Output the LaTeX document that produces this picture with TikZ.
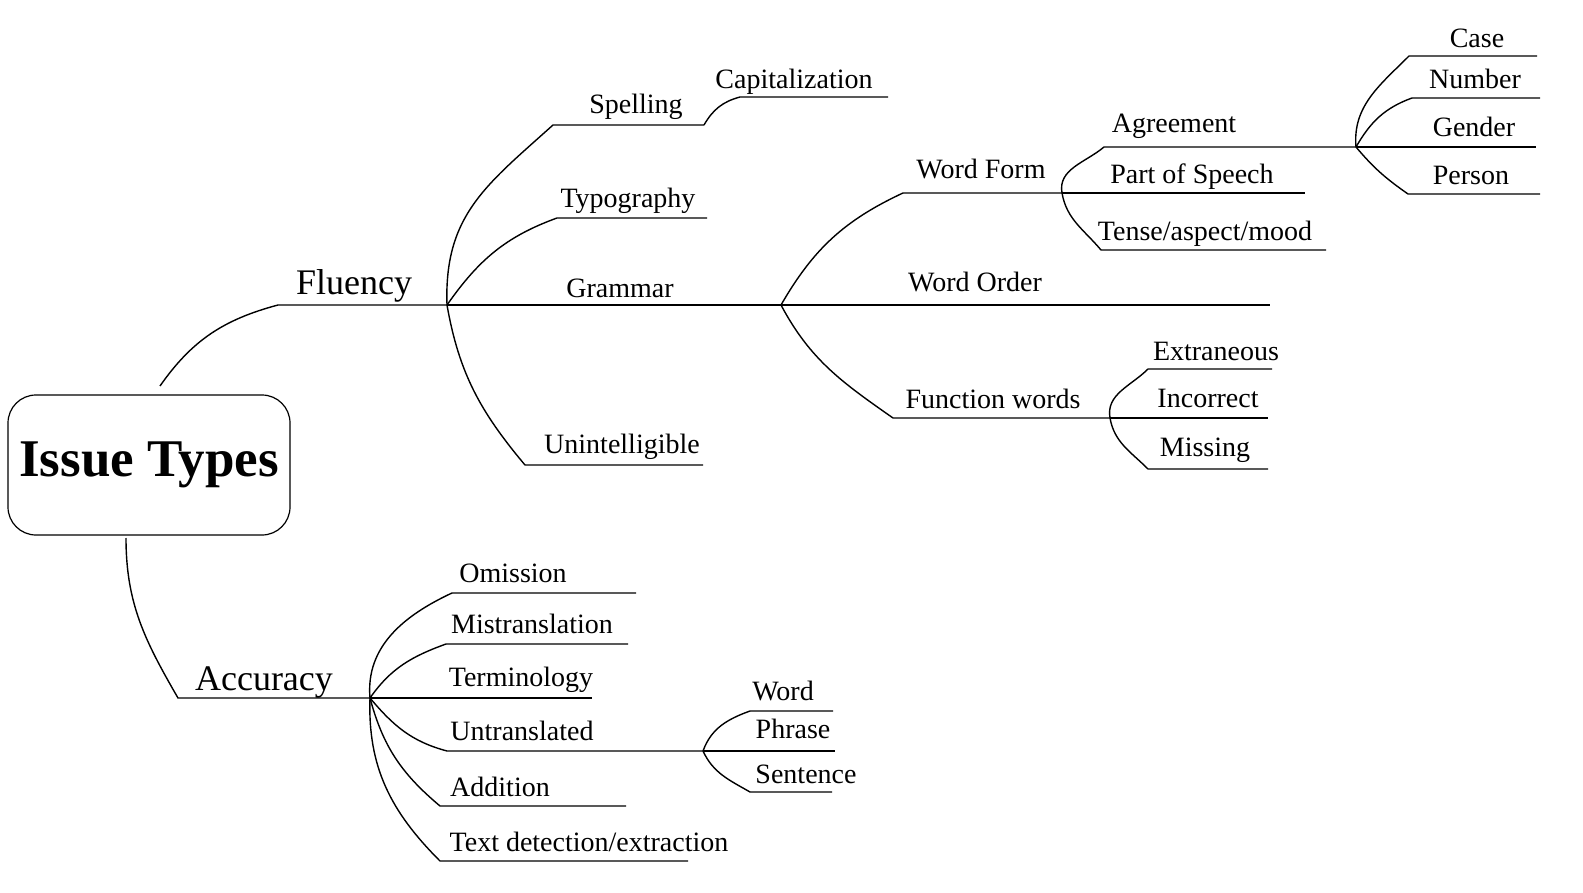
\documentclass[tikz,border=0pt]{standalone}
\usepackage{fontspec}
\setmainfont{Liberation Serif}

\begin{document}
\begin{tikzpicture}[x=1pt, y=1pt, line width=1.4pt,
    root/.style = {draw, line width=1.2pt, rounded corners=28pt, minimum width=282pt, minimum height=140pt, font=\fontsize{53}{60}\selectfont\bfseries},
    big/.style = {anchor=base, inner sep=0pt, font=\fontsize{36}{40}\selectfont},
    lbl/.style = {anchor=base, inner sep=0pt, font=\fontsize{28}{32}\selectfont}]
    \useasboundingbox (0,0) rectangle (1583,-893);

    \node[root] (issue) at (149,-465) {Issue Types};

    \coordinate (fl0) at (160,-386);  \coordinate (fl1) at (278,-305);  \coordinate (F) at (447,-305);
    \coordinate (ac0) at (126,-538);  \coordinate (ac1) at (178,-698);  \coordinate (A) at (370,-698);
    \node[big] (tfl) at (354,-295) {Fluency};
    \node[big] (tac) at (264,-690) {Accuracy};

    \draw (fl0) to [out=55, in=195] (fl1) -- (F);
    \draw (ac0) to [out=-90, in=120] (ac1) -- (A);

    \coordinate (sp) at (553,-125);  \coordinate (spE) at (704,-125);
    \coordinate (ca) at (740,-97);   \coordinate (caE) at (888,-97);
    \coordinate (ty) at (557,-218);  \coordinate (tyE) at (707,-218);
    \coordinate (G) at (781,-305);
    \coordinate (un) at (525,-465);  \coordinate (unE) at (703,-465);
    \node[lbl] (tsp) at (636,-114) {Spelling};
    \node[lbl] (tca) at (794,-89)  {Capitalization};
    \node[lbl] (tty) at (628,-208) {Typography};
    \node[lbl] (tgr) at (620,-298) {Grammar};
    \node[lbl] (tun) at (622,-453) {Unintelligible};

    \draw (F) to [out=92, in=222, looseness=1.1] (sp) -- (spE);
    \draw (spE) to [out=60, in=195] (ca) -- (caE);
    \draw (F) to [out=55, in=200] (ty) -- (tyE);
    \draw (F) -- (G);
    \draw (F) to [out=-80, in=130] (un) -- (unE);

    \coordinate (wf) at (903,-193);  \coordinate (WF) at (1062,-193);
    \coordinate (woE) at (1270,-305);
    \coordinate (fw) at (893,-418);  \coordinate (FW) at (1110,-418);
    \node[lbl] (twf) at (981,-179) {Word Form};
    \node[lbl] (two) at (975,-292) {Word Order};
    \node[lbl] (tfw) at (993,-408) {Function words};

    \draw (G) to [out=60, in=205] (wf) -- (WF);
    \draw (G) -- (woE);
    \draw (G) to [out=-62, in=145] (fw) -- (FW);

    \coordinate (ag) at (1104,-147);  \coordinate (AG) at (1356,-147);
    \coordinate (psE) at (1305,-193);
    \coordinate (te) at (1101,-250);  \coordinate (teE) at (1326,-250);
    \node[lbl] (tag) at (1174,-133) {Agreement};
    \node[lbl] (tps) at (1192,-184) {Part of Speech};
    \node[lbl] (tte) at (1205,-241) {Tense/aspect/mood};

    \draw (WF) to [out=100, in=220] (ag) -- (AG);
    \draw (WF) -- (psE);
    \draw (WF) to [out=-80, in=130] (te) -- (teE);

    \coordinate (cs) at (1409,-56);  \coordinate (csE) at (1537,-56);
    \coordinate (nu) at (1412,-98);  \coordinate (nuE) at (1540,-98);
    \coordinate (geE) at (1536,-147);
    \coordinate (pe) at (1408,-194); \coordinate (peE) at (1540,-194);
    \node[lbl] (tcs) at (1477,-48)  {Case};
    \node[lbl] (tnu) at (1475,-89)  {Number};
    \node[lbl] (tge) at (1474,-137) {Gender};
    \node[lbl] (tpe) at (1471,-185) {Person};

    \draw (AG) to [out=95, in=225] (cs) -- (csE);
    \draw (AG) to [out=60, in=200] (nu) -- (nuE);
    \draw (AG) -- (geE);
    \draw (AG) to [out=-50, in=145] (pe) -- (peE);

    \coordinate (ex) at (1148,-369);  \coordinate (exE) at (1272,-369);
    \coordinate (inE) at (1268,-418);
    \coordinate (mi) at (1148,-469);  \coordinate (miE) at (1268,-469);
    \node[lbl] (tex) at (1216,-361) {Extraneous};
    \node[lbl] (tin) at (1208,-407) {Incorrect};
    \node[lbl] (tmi) at (1205,-456) {Missing};

    \draw (FW) to [out=100, in=225] (ex) -- (exE);
    \draw (FW) -- (inE);
    \draw (FW) to [out=-80, in=135] (mi) -- (miE);

    \coordinate (om) at (452,-593);  \coordinate (omE) at (636,-593);
    \coordinate (ms) at (446,-644);  \coordinate (msE) at (628,-644);
    \coordinate (tmE) at (592,-698);
    \coordinate (ut) at (447,-751);  \coordinate (U) at (703,-751);
    \coordinate (ad) at (440,-806);  \coordinate (adE) at (626,-806);
    \coordinate (td) at (440,-861);  \coordinate (tdE) at (688,-861);
    \node[lbl] (tom) at (513,-582) {Omission};
    \node[lbl] (tms) at (532,-633) {Mistranslation};
    \node[lbl] (ttm) at (521,-686) {Terminology};
    \node[lbl] (tut) at (522,-740) {Untranslated};
    \node[lbl] (tad) at (500,-796) {Addition};
    \node[lbl] (ttd) at (589,-851) {Text detection/extraction};

    \draw (A) to [out=95, in=205] (om) -- (omE);
    \draw (A) to [out=55, in=200] (ms) -- (msE);
    \draw (A) -- (tmE);
    \draw (A) to [out=-50, in=165] (ut) -- (U);
    \draw (A) to [out=-75, in=140] (ad) -- (adE);
    \draw (A) to [out=-92, in=135] (td) -- (tdE);

    \coordinate (wd) at (750,-711);  \coordinate (wdE) at (833,-711);
    \coordinate (phE) at (835,-751);
    \coordinate (se) at (750,-792);  \coordinate (seE) at (832,-792);
    \node[lbl] (twd) at (783,-700) {Word};
    \node[lbl] (tph) at (793,-738) {Phrase};
    \node[lbl] (tse) at (806,-783) {Sentence};

    \draw (U) to [out=70, in=200] (wd) -- (wdE);
    \draw (U) -- (phE);
    \draw (U) to [out=-65, in=150] (se) -- (seE);
\end{tikzpicture}
\end{document}
